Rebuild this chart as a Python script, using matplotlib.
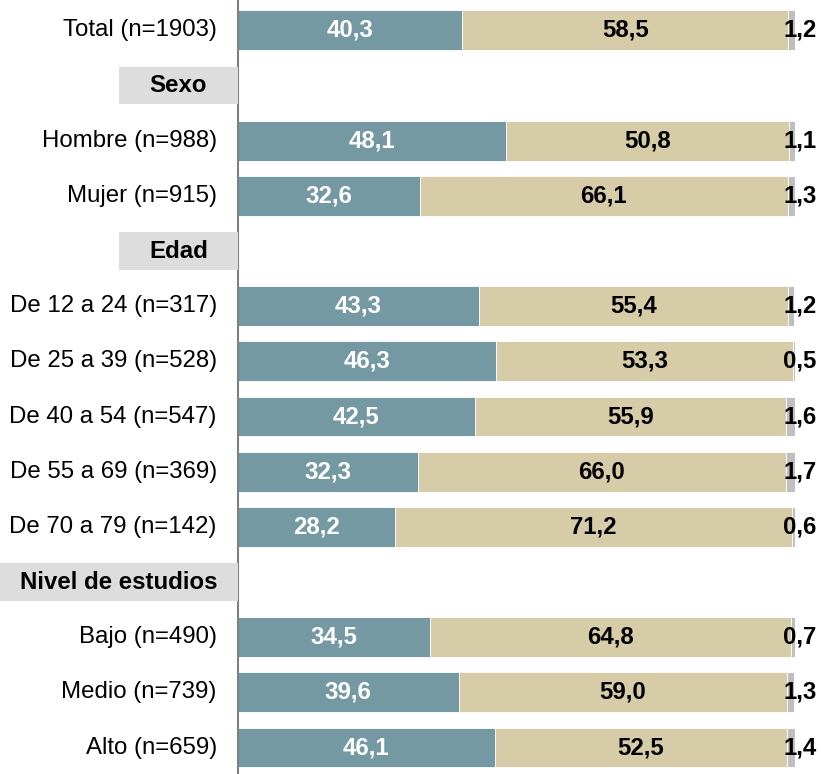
import matplotlib
matplotlib.use("Agg")
import matplotlib.pyplot as plt
from matplotlib.patches import Rectangle
from matplotlib.transforms import blended_transform_factory

plt.rcParams["font.family"] = ["Liberation Sans", "DejaVu Sans"]

# filas de arriba a abajo; las cabeceras de sección no llevan valores
labels = [
    "Total (n=1903)", "Sexo", "Hombre (n=988)", "Mujer (n=915)", "Edad",
    "De 12 a 24 (n=317)", "De 25 a 39 (n=528)", "De 40 a 54 (n=547)",
    "De 55 a 69 (n=369)", "De 70 a 79 (n=142)", "Nivel de estudios",
    "Bajo (n=490)", "Medio (n=739)", "Alto (n=659)",
]
is_header = [False, True, False, False, True, False, False, False,
             False, False, True, False, False, False]
si = [40.3, None, 48.1, 32.6, None, 43.3, 46.3, 42.5, 32.3, 28.2, None, 34.5, 39.6, 46.1]
no = [58.5, None, 50.8, 66.1, None, 55.4, 53.3, 55.9, 66.0, 71.2, None, 64.8, 59.0, 52.5]
nsnc = [1.2, None, 1.1, 1.3, None, 1.2, 0.5, 1.6, 1.7, 0.6, None, 0.7, 1.3, 1.4]

c_si = "#7599A3"
c_no = "#D6CCA8"
c_ns = "#BFBFBF"

fig = plt.figure(figsize=(8.21, 7.74), dpi=100)
ax = fig.add_axes([238 / 821, 0, (795 - 238) / 821, 1])

FS = 17.3


def fmt(v):
    return f"{v:.1f}".replace(".", ",")


h = 0.72
for i, lab in enumerate(labels):
    if is_header[i]:
        continue
    a, b, c = si[i], no[i], nsnc[i]
    ax.barh(i, a, height=h, color=c_si, edgecolor="white", linewidth=0.6)
    ax.barh(i, b, left=a, height=h, color=c_no, edgecolor="white", linewidth=0.6)
    ax.barh(i, c, left=a + b, height=h, color=c_ns, edgecolor="white", linewidth=0.6)
    ax.text(a / 2, i, fmt(a), ha="center", va="center", color="white",
            fontsize=FS, fontweight="bold")
    ax.text(a + b / 2, i, fmt(b), ha="center", va="center", color="black",
            fontsize=FS, fontweight="bold")
    ax.text(97.9, i, fmt(c), ha="left", va="center", color="black",
            fontsize=FS, fontweight="bold", clip_on=False)
    ax.text(-0.038, i, lab, ha="right", va="center", fontsize=FS,
            transform=blended_transform_factory(ax.transAxes, ax.transData))

# cabeceras con caja gris
tr = blended_transform_factory(fig.transFigure, ax.transData)
for i, lab in enumerate(labels):
    if not is_header[i]:
        continue
    x0 = 0 if len(lab) > 6 else 119 / 821
    x1 = 238 / 821
    fig.patches.append(Rectangle((x0, i - 0.34), x1 - x0, 0.68, transform=tr,
                                 facecolor="#DDDDDD", edgecolor="none", zorder=0))
    fig.text((x0 + x1) / 2, i, lab, transform=tr, ha="center", va="center",
             fontsize=FS, fontweight="bold")

ax.set_xlim(0, 100)
ax.set_ylim(13.48, -0.55)
ax.set_xticks([])
ax.set_yticks([])
for s in ["top", "right", "bottom"]:
    ax.spines[s].set_visible(False)
ax.spines["left"].set_color("#808080")
ax.spines["left"].set_linewidth(1.5)
ax.spines["left"].set_zorder(5)
ax.patch.set_alpha(0)

fig.savefig("out.png", dpi=100)
